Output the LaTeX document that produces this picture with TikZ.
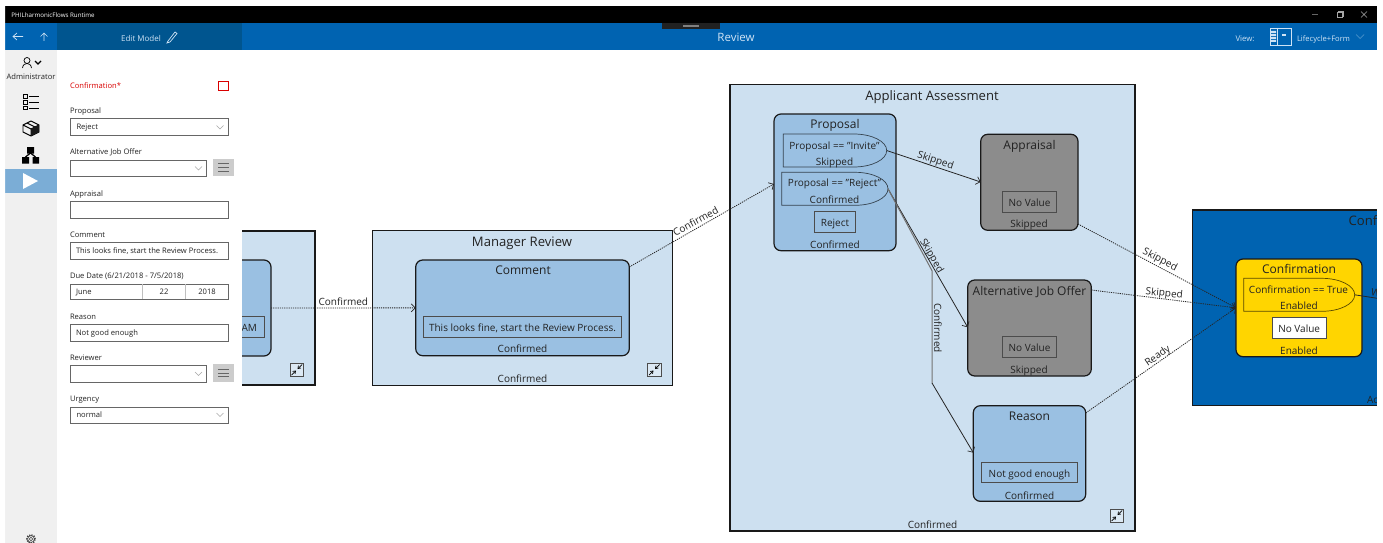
\documentclass[tikz,border=0pt]{standalone}
\usepackage{fontspec}
\setmainfont{Open Sans}
\usetikzlibrary{arrows.meta}
\definecolor{barblue}{HTML}{0063B1}
\definecolor{bardark}{HTML}{00558F}
\definecolor{objlight}{HTML}{CDE0F0}
\definecolor{statefill}{HTML}{9AC0E2}
\definecolor{skipgray}{HTML}{8C8C8C}
\definecolor{gold}{HTML}{FFD500}
\definecolor{side}{HTML}{F0F0F0}
\definecolor{sel}{HTML}{7BADD6}
\definecolor{ink}{HTML}{222222}
\definecolor{barlight}{HTML}{CFE3F5}
\newcommand\bx[7]{\node[#1,minimum width={(#5-(#3))*1pt},minimum height={(#6-(#4))*1pt}] (#2) at ({(#3+#5)/2},{(#4+#6)/2}) {#7};}
\newcommand\tx[5]{\node[#1] (#2) at (#3,#4) {#5};}
\newcommand\decision[6]{% name x1 y1 x2 y2 style
  \bx{inner sep=0pt,outer sep=0pt}{#1}{#2}{#3}{#4}{#5}{}
  \draw[dec,#6] (#1.south west) -- (#1.north west) -- ({#4-33},#3) arc[start angle=90,end angle=-90,x radius=33pt,y radius={(#5-(#3))/2*1pt}] -- cycle;
}
\newcommand\collapseicon[3]{%
  \bx{iconbox}{#1}{#2}{#3}{#2+13.5}{#3+13.5}{}
  \draw[icon,-{Straight Barb[length=2.5pt,width=3.5pt]}] (#1.north east) ++(-1.5,1.5) -- +(-4.5,4.5);
  \draw[icon,-{Straight Barb[length=2.5pt,width=3.5pt]}] (#1.south west) ++(1.5,-1.5) -- +(4.5,-4.5);
}
\tikzset{
  x=1pt,y=-1pt,
  txt/.style={inner sep=0pt,outer sep=0pt,text=ink,text height=.9em,text depth=0pt,font=\fontsize{10}{12}\selectfont},
  small/.style={txt,text height=.55em,font=\fontsize{7.6}{9}\selectfont},
  smallw/.style={small,anchor=west},
  big/.style={txt,font=\fontsize{13.1}{15}\selectfont},
  title/.style={txt,font=\fontsize{12}{14}\selectfont},
  bar/.style={txt,text=barlight},
  obj/.style={draw=black!90,line width=1.5pt,fill=objlight,inner sep=0pt,outer sep=0pt},
  state/.style={draw=black!90,line width=1.2pt,rounded corners=7pt,fill=statefill,inner sep=0pt,outer sep=0pt},
  skipstate/.style={state,fill=skipgray},
  goldstate/.style={state,fill=gold},
  val/.style={draw=black!70,line width=.9pt,inner sep=0pt,outer sep=0pt,text=ink,text height=.9em,text depth=0pt,font=\fontsize{10}{12}\selectfont},
  dec/.style={draw=black,draw opacity=.65,line width=.7pt},
  flowd/.style={draw=black!85,line width=.8pt,dash pattern=on 1.2pt off 1pt,-{Straight Barb[length=4pt,width=8pt,line width=.7pt]}},
  flows/.style={draw=black!85,line width=.8pt,-{Straight Barb[length=4pt,width=8pt,line width=.7pt]}},
  iconbox/.style={draw=black!70,line width=.7pt,fill=objlight!70!white,inner sep=0pt,outer sep=0pt},
  icon/.style={draw=black,line width=.7pt},
  field/.style={draw=black!60,line width=.9pt,fill=white,inner sep=0pt,outer sep=0pt},
  menubtn/.style={fill=black!20,inner sep=0pt,outer sep=0pt},
  chev/.style={draw=black!35,line width=.5pt},
  barline/.style={draw=barlight,line width=.7pt},
  winctl/.style={draw=white!65!black,line width=.6pt},
  sideicon/.style={draw=black,line width=.7pt},
}
\begin{document}
\begin{tikzpicture}
\useasboundingbox (0,0) rectangle (1383,543);
\fill[white] (0,0) rectangle (1383,543);

% first object, mostly behind the form
\bx{obj}{obj1}{200}{231}{315}{385}{}
\bx{state}{st1}{200}{260}{271}{356}{}
\bx{val}{val1}{205}{316}{264}{337}{}
\tx{txt,anchor=east}{v1t}{257}{327}{AM}
\collapseicon{ic1}{290}{363}

% Manager Review
\bx{obj}{mgr}{372.5}{230.5}{672.5}{385.5}{}
\tx{big}{mgrt}{522}{242}{Manager Review}
\bx{state}{comment}{415.7}{260}{629.3}{355.7}{}
\tx{title}{commentt}{523}{269.5}{Comment}
\bx{val}{commentv}{423.5}{316.5}{621.5}{337}{This looks fine, start the Review Process.}
\tx{txt}{comments}{522.5}{348}{Confirmed}
\tx{txt}{mgrs}{522.5}{378}{Confirmed}
\collapseicon{ic2}{647.5}{363}

% Applicant Assessment
\bx{obj}{app}{730}{84.5}{1135}{531}{}
\tx{big}{appt}{932}{96}{Applicant Assessment}
\bx{state}{proposal}{774}{114}{896}{250.7}{}
\tx{title}{proposalt}{835}{124}{Proposal}
\decision{dinv}{783.3}{134}{886.7}{167}{}
\tx{txt}{dinvt}{834.5}{145}{Proposal == "Invite"}
\tx{txt}{dinvs}{834.5}{161}{Skipped}
\decision{drej}{781.7}{172.3}{888}{205.3}{}
\tx{txt}{drejt}{834.5}{182}{Proposal == "Reject"}
\tx{txt}{drejs}{834.5}{199}{Confirmed}
\bx{val,line width=1pt}{rejv}{814.7}{211.3}{855.3}{232.7}{Reject}
\tx{txt}{proposals}{835}{243.5}{Confirmed}

\bx{skipstate}{appraisal}{980.7}{134.3}{1078}{230.3}{}
\tx{title}{appraisalt}{1029.5}{144.5}{Appraisal}
\bx{val}{appraisalv}{1002.3}{191}{1056.7}{212}{No Value}
\tx{txt}{appraisals}{1029}{223}{Skipped}

\bx{skipstate}{ajo}{967.7}{280}{1091.3}{376}{}
\tx{title}{ajot}{1029.5}{291}{Alternative Job Offer}
\bx{val}{ajov}{1002.3}{336.7}{1056.7}{357.7}{No Value}
\tx{txt}{ajos}{1029}{369}{Skipped}

\bx{state}{reason}{973.3}{405.7}{1085.7}{501.3}{}
\tx{title}{reasont}{1029.5}{416}{Reason}
\bx{val}{reasonv}{981.3}{462.3}{1077.7}{482.7}{Not good enough}
\tx{txt}{reasons}{1029.5}{494.5}{Confirmed}
\tx{txt}{apps}{932.5}{524}{Confirmed}
\collapseicon{ic3}{1110}{509}

% Confirmation object (runs off the window)
\bx{obj,fill=barblue}{conf}{1192.3}{210}{1420}{405.7}{}
\tx{big,anchor=west}{conft}{1348.7}{221}{Conf}
\tx{txt,anchor=west}{confs}{1367}{399}{Ac}
\bx{goldstate}{confst}{1236}{259}{1362}{356.7}{}
\tx{title}{confstt}{1299}{268.5}{Confirmation}
\decision{dconf}{1243.7}{278.3}{1354.7}{311.3}{}
\tx{txt}{dconft}{1298.5}{289}{Confirmation == True}
\tx{txt}{dconfs}{1299}{305}{Enabled}
\bx{val,fill=white,line width=1pt}{confv}{1272}{317.7}{1326.3}{338.7}{No Value}
\tx{txt}{confss}{1299}{350}{Enabled}

% connectors
\draw[flowd] (st1.east) -- (comment.west) node[midway,txt,yshift=7pt] (l1) {Confirmed};
\draw[flowd] ([yshift=-7pt]comment.north east) -- ([yshift=-70pt]proposal.north west) node[pos=.48,txt,rotate=28,yshift=7.5pt] (l2) {Confirmed};
\draw[flows] (dinv.east) -- ([yshift=-47.7pt]appraisal.north west) node[pos=.5,txt,rotate=-18,yshift=7.5pt] (l3) {Skipped};
\draw[flows] (drej.east) -- ([yshift=-47.3pt]ajo.north west) node[pos=.5,txt,rotate=-60,yshift=6pt] (l4) {Skipped};
\coordinate (bend1) at (932,270.7);
\coordinate (bend2) at (932,383);
\draw[flows,draw=black!55,line width=1pt,-] (drej.east) -- (bend1) -- (bend2);
\draw[flows] (bend2) -- ([yshift=-47pt]reason.north west);
\tx{txt,rotate=-90}{l5}{938.5}{328}{Confirmed}
\draw[flowd] ([yshift=6.3pt]appraisal.south east) -- (confst.west) node[pos=.5,txt,rotate=-27,yshift=8.5pt] (l6) {Skipped};
\draw[flowd] ([yshift=-10pt]ajo.north east) -- (confst.west) node[pos=.5,txt,rotate=-6,yshift=7pt] (l7) {Skipped};
\draw[flowd] ([yshift=-7.3pt]reason.north east) -- (confst.west) node[pos=.5,txt,rotate=35,yshift=7pt] (l8) {Ready};
\coordinate (offr) at (1385,299.5);
\draw[flows,-] (dconf.east) -- (offr);
\tx{txt,rotate=-10,anchor=west}{l9}{1371.5}{291.5}{W}

% chrome
\fill[black] (5,6) rectangle (1377,23);
\fill[barblue] (5,23) rectangle (1377,50);
\fill[bardark] (57,23) rectangle (242,50);
\fill[side] (5,50) rectangle (57,543);
\fill[white] (57,50) rectangle (242,543);
\fill[sel] (5,169) rectangle (57,193);
\fill[black!87] (662,23) rectangle (720,29);
\fill[black!50] (683,25) rectangle (699,27);

\tx{small,text=white,anchor=west,font=\fontsize{6.2}{8}\selectfont}{apptitle}{11.5}{14.5}{PHILharmonicFlows Runtime}
\tx{bar,font=\fontsize{11.5}{14}\selectfont}{review}{736}{37}{Review}
\tx{bar,font=\fontsize{8}{10}\selectfont}{editm}{141}{37}{Edit Model}
\tx{bar,font=\fontsize{7.8}{9}\selectfont}{viewl}{1245}{37}{View:}
\tx{bar,anchor=west,font=\fontsize{7.6}{9}\selectfont}{viewv}{1297}{37}{Lifecycle+Form}

% chrome glyphs
\draw[barline] (13,36.5) -- (23,36.5) (17,33) -- (13,36.5) -- (17,40);
\draw[barline] (44,41) -- (44,33) (40.5,36.5) -- (44,33) -- (47.5,36.5);
\draw[barline] (168,41) -- (175,32) -- (177,33.5) -- (170,42) -- (167,43) -- cycle;
\draw[draw=barlight!35!barblue,line width=.7pt] (1356,34.5) -- (1360,38.5) -- (1364,34.5);
\draw[barline] (1270,28) rectangle (1291,45) (1277,28) -- (1277,45);
\fill[barlight] (1271,31) rectangle (1276,33) (1271,34) rectangle (1276,36) (1271,37) rectangle (1276,39) (1271,40) rectangle (1276,42);
\fill[barlight] (1282,34) rectangle (1286,36);
\draw[winctl,draw=white!40!black] (1312,14.5) -- (1318,14.5);
\draw[winctl] (1337,12.5) rectangle (1342,17.5) (1338.5,12.5) -- (1338.5,11) -- (1343.5,11) -- (1343.5,16) -- (1342,16);
\draw[winctl] (1361,11.5) -- (1367,17.5) (1367,11.5) -- (1361,17.5);

% sidebar
\draw[sideicon] (27,60.5) circle[radius=3pt];
\draw[sideicon] (22.5,68) .. controls (23,64.5) and (25,63.5) .. (27,63.5) .. controls (29,63.5) and (31,64.5) .. (31.5,68);
\draw[sideicon,line width=1.1pt] (35,61) -- (38,64) -- (41,61);
\tx{small}{admin}{31}{77}{Administrator}
\draw[sideicon] (23,94.5) rectangle (27,98) (23,100) rectangle (27,104) (23,106) rectangle (27,109.5);
\draw[sideicon] (29,96) -- (39,96) (29,102) -- (39,102) (29,108) -- (39,108);
\draw[sideicon,line width=.9pt,line join=round] (23,125) -- (31,121) -- (39,125) -- (39,132) -- (31,136) -- (23,132) -- cycle (23,125) -- (31,129) -- (39,125) (31,129) -- (31,136) (27,123) -- (35,127);
\fill[black!90] (31,129) -- (39,125) -- (39,132) -- (31,136) -- cycle;
\fill[black] (27,147) rectangle (34,153.5) (22,157) rectangle (29,163.5) (32.5,157) rectangle (39,163.5);
\draw[sideicon,line width=1.2pt] (25.5,157) -- (30.5,153) (35.5,157) -- (30.5,153);
\fill[white] (23,173) -- (38,181) -- (23,189) -- cycle;
\draw[black!75,line width=1.4pt,dash pattern=on 1.2pt off 1.2pt] (31,539) circle[radius=4.2pt];
\draw[black!75,line width=.6pt] (31,539) circle[radius=3.4pt];
\draw[black!75,line width=.6pt] (31,539) circle[radius=1.7pt];

% form
\tx{smallw,text=red!85!black}{f1}{70}{86}{Confirmation*}
\bx{draw=red!85!black,line width=1pt,inner sep=0pt,fill=white}{f1b}{218.5}{81}{228}{90.5}{}
\tx{smallw}{f2}{70}{111}{Proposal}
\bx{field}{f2b}{70}{118.5}{228}{135}{}
\tx{smallw}{f2v}{76.5}{127}{Reject}
\draw[chev] (216.5,125.5) -- (220,129) -- (223.5,125.5);
\tx{smallw}{f3}{70}{152}{Alternative Job Offer}
\bx{field}{f3b}{70}{160}{206.5}{176}{}
\draw[chev] (195,166.5) -- (198.5,170) -- (202,166.5);
\bx{menubtn}{f3m}{212.5}{158.5}{234}{176}{}
\draw[black!60,line width=.7pt] (218,163.5) -- (229,163.5) (218,167.5) -- (229,167.5) (218,171) -- (229,171);
\tx{smallw}{f4}{70}{193.5}{Appraisal}
\bx{field}{f4b}{70}{201.5}{228}{218}{}
\tx{smallw}{f5}{70}{235}{Comment}
\bx{field}{f5b}{70}{242.5}{228}{259}{}
\tx{smallw}{f5v}{76}{250.5}{This looks fine, start the Review Process.}
\tx{smallw}{f6}{70}{276}{Due Date (6/21/2018 - 7/5/2018)}
\bx{field}{f6b}{70}{284}{228}{299}{}
\draw[black!25,line width=.7pt] (142,284) -- (142,299) (185.5,284) -- (185.5,299);
\tx{smallw}{f6a}{76}{292}{June}
\tx{small}{f6c}{164}{292}{22}
\tx{small}{f6d}{207}{292}{2018}
\tx{smallw}{f7}{70}{316.5}{Reason}
\bx{field}{f7b}{70}{324.5}{228}{341}{}
\tx{smallw}{f7v}{76}{332.5}{Not good enough}
\tx{smallw}{f8}{70}{358}{Reviewer}
\bx{field}{f8b}{70}{365.5}{206.5}{382}{}
\draw[chev] (195,372) -- (198.5,375.5) -- (202,372);
\bx{menubtn}{f8m}{212.5}{364}{234}{382}{}
\draw[black!60,line width=.7pt] (218,369) -- (229,369) (218,373) -- (229,373) (218,376.5) -- (229,376.5);
\tx{smallw}{f9}{70}{399}{Urgency}
\bx{field}{f9b}{70}{407}{228}{423}{}
\tx{smallw}{f9v}{76.5}{415}{normal}
\draw[chev] (216.5,413) -- (220,416.5) -- (223.5,413);

% window margins
\fill[white] (1377,0) rectangle (1383,543) (0,0) rectangle (5,543) (0,0) rectangle (1383,6);
\end{tikzpicture}
\end{document}
